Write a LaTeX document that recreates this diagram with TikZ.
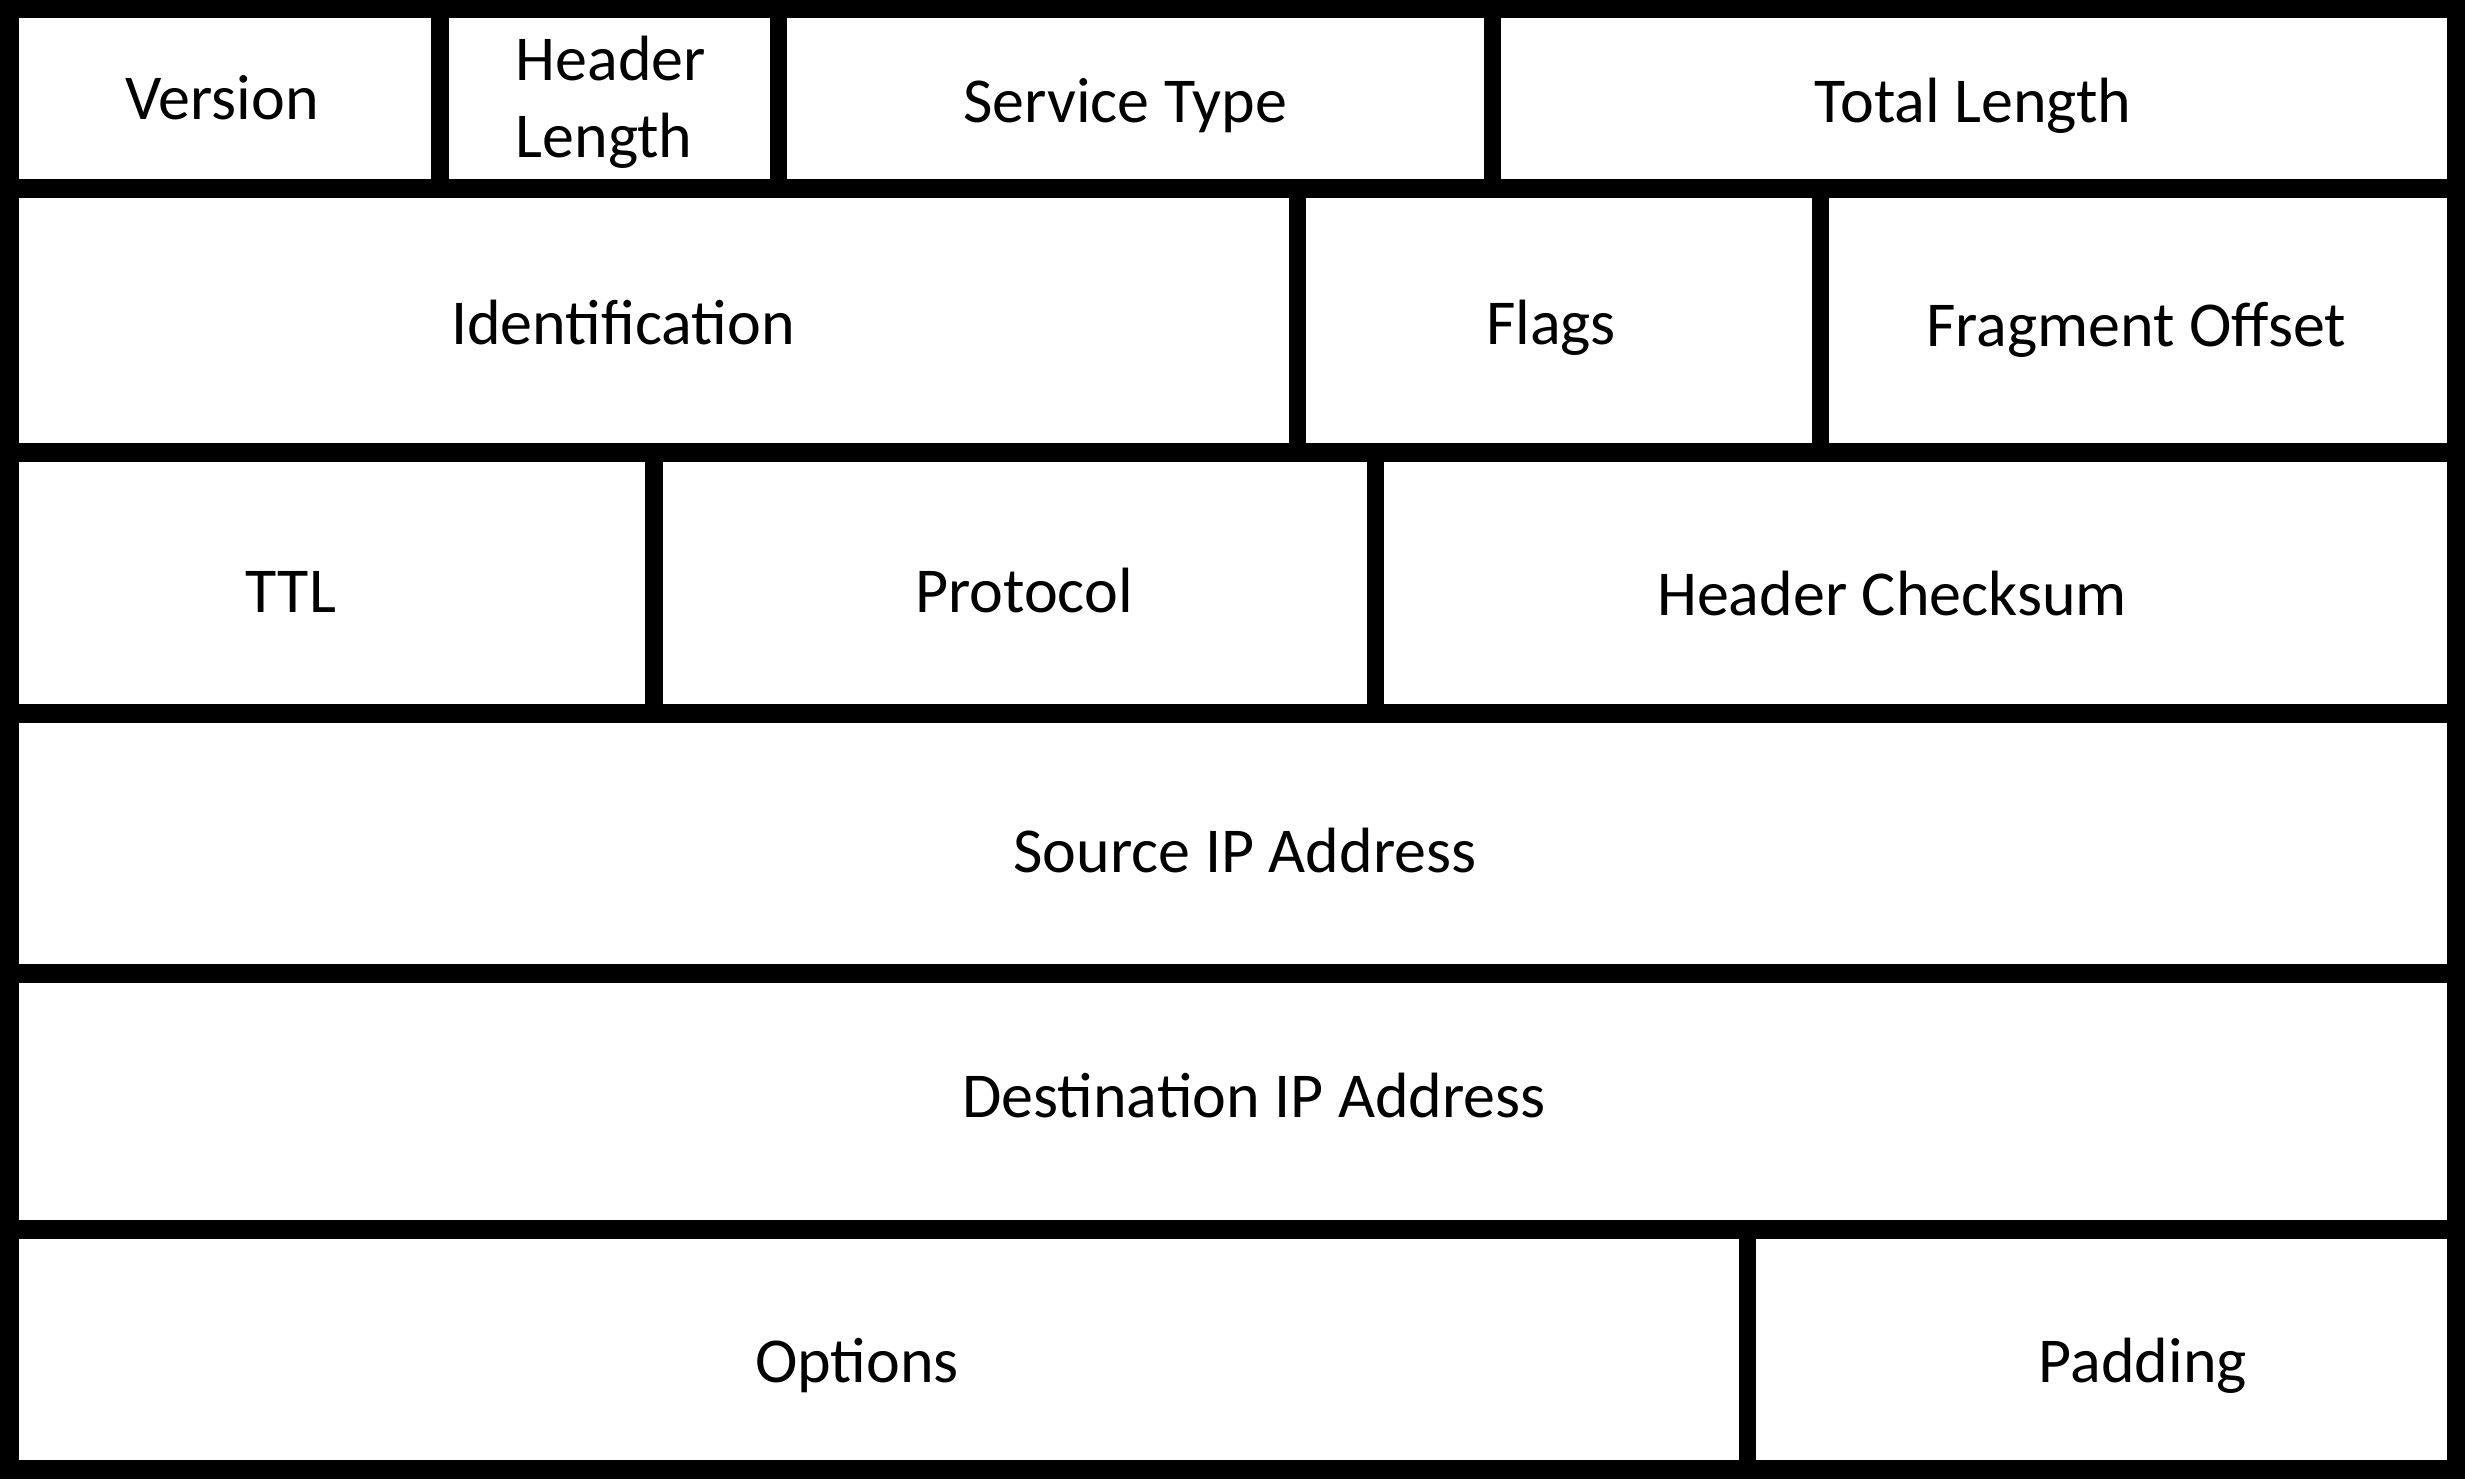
\documentclass[tikz,border=0pt]{standalone}
\usepackage{fontspec}
\setmainfont{Carlito}

\begin{document}
\begin{tikzpicture}[x=0.01cm, y=-0.01cm,
    field/.style={anchor=base, font=\fontsize{18.2}{21.9}\selectfont, align=center},
    hrule/.style={line width=0.19cm},
    vrule/.style={line width=0.17cm}]
      \useasboundingbox (0,0) rectangle (2465,1480);
      % frame and row separators
      \draw[hrule] (9,9) rectangle (2456,1470);
      \foreach \y in {189,453,714,974,1230}
        \draw[hrule] (0,\y) -- (2465,\y);
      % field separators
      \foreach \x/\ya/\yb in {440/9/189, 778/9/189, 1492/9/189,
                              1297/189/453, 1820/189/453,
                              654/453/714, 1375/453/714, 1747/1230/1470}
        \draw[vrule] (\x,\ya) -- (\x,\yb);
      % field names
      \node[field] (version) at (222,120) {Version};
      \node[field, align=left] (hlen) at (611,158) {Header\\Length};
      \node[field] (tos) at (1125,123) {Service Type};
      \node[field] (tlen) at (1973,123) {Total Length};
      \node[field] (ident) at (623,345) {Identification};
      \node[field] (flags) at (1551,345) {Flags};
      \node[field] (frag) at (2136,347) {Fragment Offset};
      \node[field] (ttl) at (291,613) {TTL};
      \node[field] (proto) at (1024,613) {Protocol};
      \node[field] (csum) at (1892,616) {Header Checksum};
      \node[field] (src) at (1245,873) {Source IP Address};
      \node[field] (dst) at (1254,1118) {Destination IP Address};
      \node[field] (opts) at (857,1383) {Options};
      \node[field] (pad) at (2143,1383) {Padding};
\end{tikzpicture}
\end{document}
